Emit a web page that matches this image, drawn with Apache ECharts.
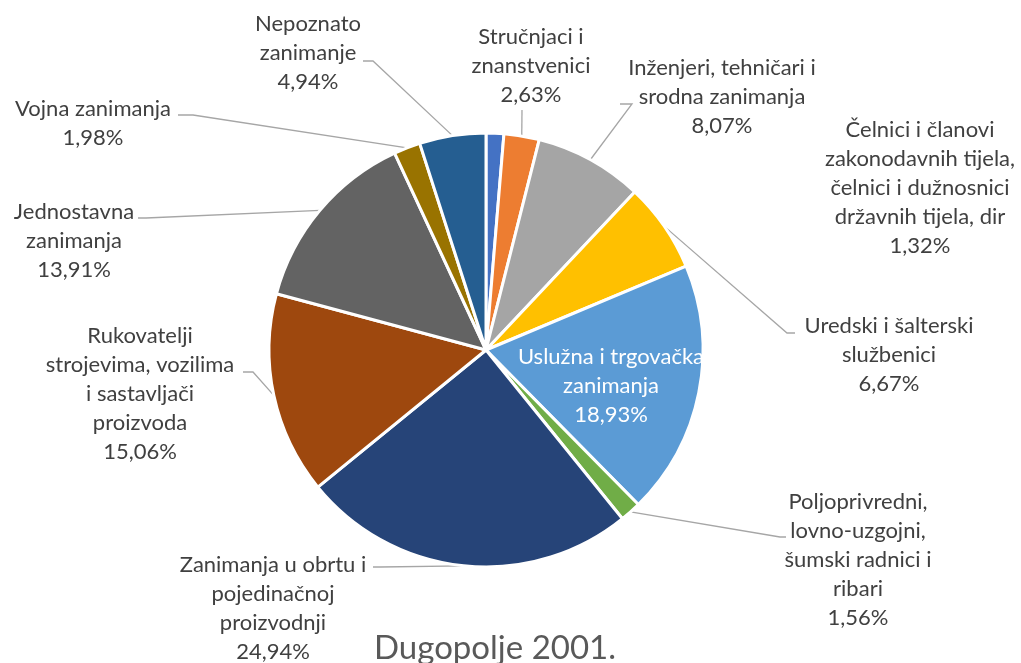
<!DOCTYPE html>
<html>
<head>
<meta charset="utf-8">
<script src="https://cdn.jsdelivr.net/npm/echarts@6/dist/echarts.min.js"></script>
<style>
  html, body { margin: 0; padding: 0; background: #ffffff; }
  #chart { width: 1021px; height: 663px; }
</style>
</head>
<body>
<div id="chart"></div>
<script>
// Occupational structure, Dugopolje 2001 (shares in %)
const categories = [
  'Čelnici i članovi\nzakonodavnih tijela,\nčelnici i dužnosnici\ndržavnih tijela, dir',
  'Stručnjaci i\nznanstvenici',
  'Inženjeri, tehničari i\nsrodna zanimanja',
  'Uredski i šalterski\nslužbenici',
  'Uslužna i trgovačka\nzanimanja',
  'Poljoprivredni,\nlovno-uzgojni,\nšumski radnici i\nribari',
  'Zanimanja u obrtu i\npojedinačnoj\nproizvodnji',
  'Rukovatelji\nstrojevima, vozilima\ni sastavljači\nproizvoda',
  'Jednostavna\nzanimanja',
  'Vojna zanimanja',
  'Nepoznato\nzanimanje'
];
const shares = [1.32, 2.63, 8.07, 6.67, 18.93, 1.56, 24.94, 15.06, 13.91, 1.98, 4.94];
const sliceColors = ['#4472C4', '#ED7D31', '#A5A5A5', '#FFC000', '#5B9BD5', '#70AD47',
                     '#264478', '#9E480E', '#636363', '#997300', '#255E91'];
const titleText = 'Dugopolje 2001.';

// Label block centres (px) and leader-line elbow / end points (null = no line)
const labelCentres = [
  [920, 188], [531, 66], [722, 97], [889, 355], [611, 386], [858, 560],
  [273, 608], [140, 394], [74, 241], [93, 123], [308, 53]
];
const leaderBends = [
  null,
  [[522, 110], [522, 110]],
  [[632, 104], [620, 104]],
  [[787, 333], [795, 333]],
  null,
  [[780, 537], [786, 537]],
  [[380, 567], [373, 567]],
  [[253, 372], [243, 372]],
  [[146, 218], [138, 218]],
  [[193, 115], [178, 115]],
  [[373, 61], [363, 61]]
];

const fmt = v => v.toFixed(2).replace('.', ',') + '%';

const chart = echarts.init(document.getElementById('chart'), null, { renderer: 'canvas' });

const data = categories.map((name, i) => {
  const item = {
    name: name,
    value: shares[i],
    itemStyle: { color: sliceColors[i] }
  };
  if (i === 4) {
    item.label = { color: '#ffffff' };
    item.labelLine = { show: false };
  }
  if (i === 0) {
    item.labelLine = { show: false };
  }
  return item;
});

chart.setOption({
  animation: false,
  backgroundColor: '#ffffff',
  title: {
    text: titleText,
    left: 490,
    top: 643,
    textAlign: 'center',
    textVerticalAlign: 'middle',
    textStyle: {
      fontFamily: 'Lato',
      fontSize: 33,
      fontWeight: 'normal',
      color: '#595959'
    }
  },
  series: [{
    type: 'pie',
    center: [486, 350],
    radius: 217,
    startAngle: 90,
    clockwise: true,
    avoidLabelOverlap: false,
    itemStyle: { borderColor: '#ffffff', borderWidth: 3 },
    label: {
      show: true,
      position: 'outside',
      fontFamily: 'Lato',
      fontSize: 22,
      lineHeight: 29,
      color: '#404040',
      align: 'center',
      formatter: p => p.name + '\n' + fmt(p.value)
    },
    labelLine: {
      show: true,
      length: 10,
      length2: 10,
      lineStyle: { color: '#A6A6A6', width: 1.3 }
    },
    labelLayout: function (params) {
      const i = params.dataIndex;
      const c = labelCentres[i];
      const out = { x: c[0], y: c[1], align: 'center', verticalAlign: 'middle' };
      const bend = leaderBends[i];
      if (bend && params.labelLinePoints) {
        out.labelLinePoints = [params.labelLinePoints[0], bend[0], bend[1]];
      }
      return out;
    },
    data: data
  }]
});
</script>
</body>
</html>
